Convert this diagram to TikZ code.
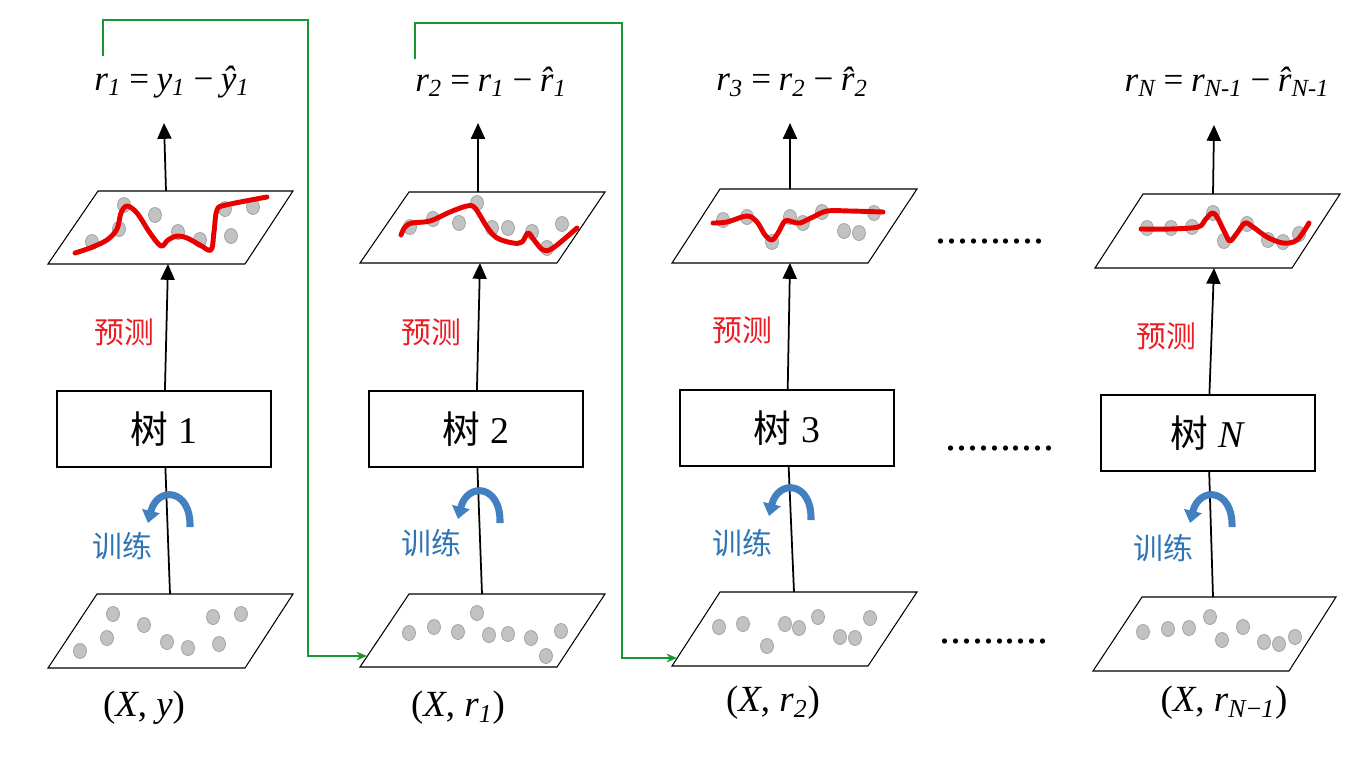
\documentclass[tikz,border=0pt]{standalone}
\usepackage{fontspec}
\setmainfont{Liberation Serif}
\newfontfamily\cjk{Noto Sans CJK SC}
\usepackage{tikz}
\usetikzlibrary{arrows.meta,positioning}
\definecolor{predred}{RGB}{235,28,36}
\definecolor{curvered}{RGB}{232,0,0}
\definecolor{trainblue}{RGB}{46,117,182}
\definecolor{arcblue}{RGB}{66,128,194}
\definecolor{linkgreen}{RGB}{24,150,52}
\definecolor{dotfill}{RGB}{194,194,194}
\definecolor{dotedge}{RGB}{158,158,158}
\tikzset{
	plane/.style={draw, line width=0.6pt, fill=white},
	treebox/.style={draw, line width=0.7pt, minimum width=4.28cm, minimum height=1.52cm, font=\fontsize{21.5}{25}\selectfont},
	residual/.style={font=\fontsize{20}{24}\selectfont\itshape},
	datalabel/.style={font=\fontsize{21}{25}\selectfont},
	predict/.style={text=predred, font=\cjk\fontsize{17}{20}\selectfont},
	train/.style={text=trainblue, font=\cjk\fontsize{17}{20}\selectfont},
	fitcurve/.style={curvered, line width=2.8pt, line cap=round, line join=round},
	sample/.style={fill=dotfill, draw=dotedge, line width=0.4pt},
	uparrow/.style={-{Triangle[length=9pt,width=8pt]}},
	trainarc/.style={arcblue, line width=4pt, -{Triangle[width=10pt,length=7pt]}},
	link/.style={linkgreen, line width=0.8pt, -{Stealth[length=6pt,width=5pt]}},
	more/.style={anchor=base, font=\fontsize{25}{30}\selectfont}
}
\begin{document}
\begin{tikzpicture}[x=0.02cm, y=-0.02cm, line width=1pt]
		\useasboundingbox (0,0) rectangle (1365,768);
		% Piani dati (in basso)
		\draw [plane] (97,594) -- (293,594) -- (245,668) -- (48,668) -- cycle;
		\draw [plane] (409,594) -- (605,594) -- (557,667) -- (360,667) -- cycle;
		\draw [plane] (720,592) -- (917,592) -- (868,666) -- (672,666) -- cycle;
		\draw [plane] (1142,597) -- (1336,597) -- (1289,671) -- (1093,671) -- cycle;
		% Piani previsione (in alto)
		\draw [plane] (98,191) -- (293,191) -- (245,264) -- (48,264) -- cycle;
		\draw [plane] (409,192) -- (605,192) -- (557,263) -- (360,263) -- cycle;
		\draw [plane] (720,189) -- (917,189) -- (868,263) -- (672,263) -- cycle;
		\draw [plane] (1143,194) -- (1340,194) -- (1292,268) -- (1095,268) -- cycle;
		% Punti
		\foreach \p in {(113,614),(107,638),(80,651),(144,625),(167,642),(188,648),(213,617),(219,644),(241,614),
			(409,633),(434,627),(458,632),(477,613),(489,635),(508,634),(531,638),(561,631),(546,656),
			(719,627),(743,624),(767,646),(785,624),(799,628),(818,617),(840,637),(855,638),(870,618),
			(1143,632),(1168,629),(1189,628),(1210,617),(1222,640),(1243,627),(1264,642),(1279,644),(1295,637),
			(92,242),(119,229),(124,205),(155,215),(178,232),(200,240),(225,209),(231,236),(253,207),
			(410,227),(433,219),(459,223),(477,203),(492,228),(508,228),(532,232),(547,248),(562,224),
			(723,220),(747,217),(772,242),(790,217),(803,223),(822,212),(844,231),(859,233),(874,213),
			(1147,228),(1171,228),(1192,227),(1213,213),(1224,241),(1247,224),(1268,240),(1283,242),(1299,234)}
			\path [sample] \p circle [x radius=6.5, y radius=7.5];
		% Curve rosse
		\draw [fitcurve] plot [smooth, tension=0.55] coordinates {(75,253) (90,248) (107,240) (117,229) (121,213) (127,206) (137,213) (150,233) (161,246) (168,240) (177,236) (187,238) (200,245) (211,250) (214,232) (217,210) (226,205) (267,197)};
		\draw [fitcurve] plot [smooth, tension=0.55] coordinates {(401,235) (405,227) (412,223) (430,221) (450,212) (467,206) (475,208) (487,227) (497,238) (513,243) (522,242) (528,233) (534,240) (543,250) (553,248) (577,228)};
		\draw [fitcurve] plot [smooth, tension=0.55] coordinates {(713,223) (727,222) (747,216) (757,222) (765,235) (772,240) (778,233) (785,221) (793,222) (800,223) (813,217) (827,211) (850,211) (883,212)};
		\draw [fitcurve] plot [smooth, tension=0.55] coordinates {(1141,229) (1170,229) (1198,227) (1205,220) (1212,213) (1217,217) (1225,233) (1230,241) (1237,233) (1245,223) (1253,227) (1267,237) (1283,243) (1297,240) (1309,223)};
		% Alberi
		\node [treebox] (tree1) at (164,429) {{\cjk 树} 1};
		\node [treebox] (tree2) at (476,429) {{\cjk 树} 2};
		\node [treebox] (tree3) at (787,428) {{\cjk 树} 3};
		\node [treebox] (tree4) at (1208,433) {{\cjk 树} \textit{N}};
		% Residui
		\node [residual] (res1) at (172,82) {r\textsubscript{1}\,=\,y\textsubscript{1}\,−\,ŷ\textsubscript{1}};
		\node [residual] (res2) at (491,82) {r\textsubscript{2}\,=\,r\textsubscript{1}\,−\,r̂\textsubscript{1}};
		\node [residual] (res3) at (792,82) {r\textsubscript{3}\,=\,r\textsubscript{2}\,−\,r̂\textsubscript{2}};
		\node [residual] (res4) at (1227,82) {r\textsubscript{N}\,=\,r\textsubscript{N-1}\,−\,r̂\textsubscript{N-1}};
		% Dati
		\node [datalabel] (data1) at (144,708) {(\textit{X}, \textit{y})};
		\node [datalabel] (data2) at (458,708) {(\textit{X}, \textit{r}\textsubscript{\textit{1}})};
		\node [datalabel] (data3) at (773,703) {(\textit{X}, \textit{r}\textsubscript{\textit{2}})};
		\node [datalabel] (data4) at (1224,703) {(\textit{X}, \textit{r}\textsubscript{\textit{N}−\textit{1}})};
		% Etichette
		\node [predict] (pred1) at (124,332) {预测};
		\node [predict] (pred2) at (431,332) {预测};
		\node [predict] (pred3) at (742,330) {预测};
		\node [predict] (pred4) at (1166,336) {预测};
		\node [train] (train1) at (122,546) {训练};
		\node [train] (train2) at (431,543) {训练};
		\node [train] (train3) at (742,543) {训练};
		\node [train] (train4) at (1163,548) {训练};
		\node [more] (gap1) at (990,243) {..........};
		\node [more] (gap2) at (1000,450) {..........};
		\node [more] (gap3) at (994,643) {..........};
		% Punti di aggancio
		\coordinate (fitB1) at (168,264);  \coordinate (fitT1) at (166,191);   \coordinate (tip1) at (164,123);  \coordinate (dataT1) at (170,594);
		\coordinate (fitB2) at (480,263);  \coordinate (fitT2) at (478,192);   \coordinate (tip2) at (478,123);  \coordinate (dataT2) at (482,594);
		\coordinate (fitB3) at (790,263);  \coordinate (fitT3) at (790,189);   \coordinate (tip3) at (790,123);  \coordinate (dataT3) at (794,592);
		\coordinate (fitB4) at (1214,268); \coordinate (fitT4) at (1213,194);  \coordinate (tip4) at (1214,125); \coordinate (dataT4) at (1213,597);
		% Frecce
		\draw (dataT1) -- (tree1);   \draw [uparrow] (tree1) -- (fitB1);   \draw [uparrow] (fitT1) -- (tip1);
		\draw (dataT2) -- (tree2);   \draw [uparrow] (tree2) -- (fitB2);   \draw [uparrow] (fitT2) -- (tip2);
		\draw (dataT3) -- (tree3);   \draw [uparrow] (tree3) -- (fitB3);   \draw [uparrow] (fitT3) -- (tip3);
		\draw (dataT4) -- (tree4);   \draw [uparrow] (tree4) -- (fitB4);   \draw [uparrow] (fitT4) -- (tip4);
		% Frecce curve (training)
		\draw [trainarc] (190,527) .. controls (191,488) and (157,486) .. (148,523);
		\draw [trainarc] (500,523) .. controls (501,484) and (467,482) .. (458,519);
		\draw [trainarc] (811,520) .. controls (812,481) and (778,479) .. (769,516);
		\draw [trainarc] (1232,527) .. controls (1233,488) and (1199,486) .. (1190,523);
		% Collegamenti residui
		\coordinate (g1s) at (103,56);  \coordinate (g1c) at (308,20);  \coordinate (in2) at (367,656);
		\coordinate (g2s) at (415,59);  \coordinate (g2c) at (622,23);  \coordinate (in3) at (677,658);
		\draw [link] (g1s) |- (g1c) |- (in2);
		\draw [link] (g2s) |- (g2c) |- (in3);
	\end{tikzpicture}
\end{document}
